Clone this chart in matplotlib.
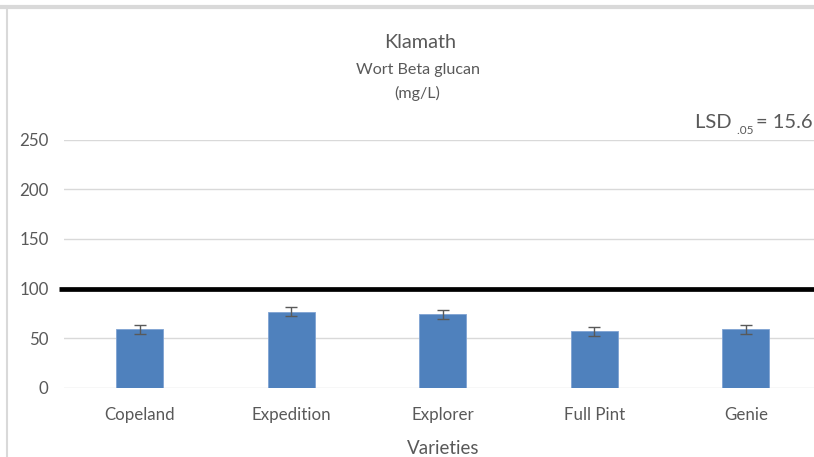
import matplotlib
matplotlib.use("Agg")
import matplotlib.pyplot as plt
from matplotlib.lines import Line2D

plt.rcParams['font.family'] = ['Lato', 'DejaVu Sans']

varieties = ["Copeland", "Expedition", "Explorer", "Full Pint", "Genie"]
beta_glucan = [59, 76.5, 74, 57, 59]
errors = [4.5, 4.5, 4.6, 4.5, 4.5]
threshold = 100
yticks = [0, 50, 100, 150, 200, 250]
title_lines = ["Klamath", "Wort Beta glucan", "(mg/L)"]
lsd_text = ("LSD", ".05", "= 15.6")

W, H = 814, 457
fig = plt.figure(figsize=(W / 100, H / 100), dpi=100)
fig.patch.set_facecolor("white")

ax_left, ax_right = 64, 814
ax_bottom, ax_top = 388, 139.5
ax = fig.add_axes([ax_left / W, 1 - ax_bottom / H,
                   (ax_right - ax_left) / W, (ax_bottom - ax_top) / H])

x = list(range(len(varieties)))
ax.bar(x, beta_glucan, width=0.31, color="#4F81BD", edgecolor="#7FA3D3",
       linewidth=0.6, zorder=3)
ax.errorbar(x, beta_glucan, yerr=errors, fmt="none", ecolor="#595959",
            elinewidth=1.0, capsize=4, capthick=1.0, zorder=4)

ax.set_xlim(-0.5, 4.45)
ax.set_ylim(0, 250)
ax.set_yticks(yticks)
ax.set_xticks(x)
ax.set_xticklabels(varieties)
ax.yaxis.grid(True, color="#D9D9D9", linewidth=1.0, zorder=0)
ax.set_axisbelow(True)
for s in ax.spines.values():
    s.set_visible(False)
ax.tick_params(axis="both", length=0, colors="#595959", labelsize=12.2)
ax.tick_params(axis="y", pad=11)
ax.tick_params(axis="x", pad=14)

# threshold line
ax.plot([-0.53, 4.6], [threshold, threshold], color="black", linewidth=3.4,
        solid_capstyle="butt", clip_on=False, zorder=5)

# x label
fig.text(443 / W, 1 - 448 / H, "Varieties", ha="center", va="center",
         fontsize=13.5, color="#595959")

# title
fig.text(420 / W, 1 - 43 / H, title_lines[0], ha="center", va="center",
         fontsize=14.3, color="#595959")
fig.text(418 / W, 1 - 70 / H, title_lines[1], ha="center", va="center",
         fontsize=11.6, color="#595959")
fig.text(417 / W, 1 - 93 / H, title_lines[2], ha="center", va="center",
         fontsize=11.6, color="#595959")

# LSD annotation (chained right-to-left)
t3 = fig.text(813 / W, 1 - 128 / H, lsd_text[2], ha="right", va="baseline",
              fontsize=14.5, color="#595959")
t2 = ax.annotate(lsd_text[1] + " ", xy=(0, 0), xycoords=t3, xytext=(0, -3.5),
                 textcoords="offset points", ha="right", va="bottom",
                 fontsize=8.5, color="#595959", annotation_clip=False)
ax.annotate(lsd_text[0] + " ", xy=(0, 0), xycoords=t2, xytext=(0, 3.5),
            textcoords="offset points", ha="right", va="bottom",
            fontsize=14.5, color="#595959", annotation_clip=False)

# outer chart frame (top and left visible)
fig.add_artist(Line2D([0, 1], [1 - 7 / H, 1 - 7 / H], transform=fig.transFigure,
                      color="#D9D9D9", linewidth=3))
fig.add_artist(Line2D([7 / W, 7 / W], [0, 1 - 7 / H], transform=fig.transFigure,
                      color="#D9D9D9", linewidth=1.5))

fig.savefig("out.png", dpi=100)
